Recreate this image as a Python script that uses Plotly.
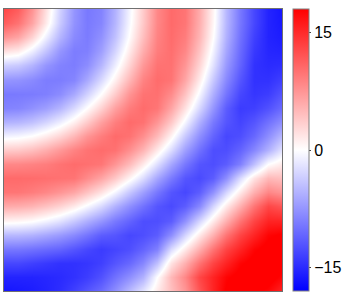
import plotly.graph_objects as go

x_positions = list(range(21))
y_positions = list(range(21))

tick_values = [-15, 0, 15]
tick_labels = ["\u221215", "0", "15"]

z_values = [
    [13,11.5,7.7,2.2,-3.3,-7.5,-9.5,-8.8,-5.5,-0.9,3.7,8.4,10.5,9.8,6,0.8,-5,-9.5,-13,-15.5,-16.5],
    [11.5,9.9,6.4,1.4,-3.8,-7.7,-9.4,-8.6,-5.2,-0.6,3.9,8.5,10.5,9.7,5.8,0.6,-5.1,-9.6,-13,-15.5,-16.3],
    [7.7,6.4,3.1,-1.2,-5.3,-8.3,-9.3,-7.8,-4.4,0.1,4.6,8.8,10.4,9.2,5.3,0.1,-5.5,-10,-13.5,-15.5,-16],
    [2.2,1.4,-1.2,-4.3,-7.5,-9.2,-9,-6.8,-3,1.4,5.8,9.2,10.2,8.5,4.3,-0.9,-6.3,-10.5,-14,-15.3,-15.5],
    [-3.3,-3.8,-5.3,-7.5,-8.8,-9.2,-8.1,-5.2,-1.2,3,7.3,9.9,10,7.5,3.1,-2.1,-7.2,-11,-14.5,-15,-14.8],
    [-7.5,-7.7,-8.3,-9.2,-9.2,-8.6,-6.1,-2.7,1.1,5.1,8.8,10.4,9.8,6.3,1.5,-3.9,-8.4,-12,-14.5,-14.5,-13.5],
    [-9.5,-9.4,-9.3,-9,-8.1,-6.1,-3.2,0.1,3.7,7.5,9.9,10.1,8.2,4.3,-0.5,-5.7,-9.8,-13,-14.2,-13.7,-12],
    [-8.8,-8.6,-7.8,-6.8,-5.2,-2.7,0.1,3.2,6.7,9.2,10.4,9.7,6.4,2.1,-2.7,-7.5,-11.5,-13.8,-13.5,-12.3,-10.5],
    [-5.5,-5.2,-4.4,-3,-1.2,1.1,3.7,6.7,9.1,10.5,10,7.5,3.9,-0.7,-5.5,-9.5,-12,-13.2,-12,-10,-8],
    [-0.9,-0.6,0.1,1.4,3,5.1,7.5,9.2,10.5,10,8,4.9,0.8,-3.9,-7.9,-11,-13,-12.5,-10.7,-8,-5],
    [3.7,3.9,4.6,5.8,7.3,8.8,9.9,10.4,10,8,5.3,1.5,-2.5,-6.8,-10,-12.5,-12.5,-11,-8.5,-5.5,-2],
    [8.4,8.5,8.8,9.2,9.9,10.4,10.1,9.7,7.5,4.9,1.5,-2.3,-6.3,-9.6,-12,-12.5,-11.5,-9,-4.5,0,1.5],
    [10.5,10.5,10.4,10.2,10,9.8,8.2,6.4,3.9,0.8,-2.5,-6.3,-9.4,-12,-12.8,-11.5,-8,-2.6,2,5,4.5],
    [9.8,9.7,9.2,8.5,7.5,6.3,4.3,2.1,-0.7,-3.9,-6.8,-9.6,-12,-13,-11.5,-7.8,-3,1.5,5.6,8.5,7.5],
    [6,5.8,5.3,4.3,3.1,1.5,-0.5,-2.7,-5.5,-7.9,-10,-12,-12.8,-11.5,-8.5,-3,1.5,5.6,9.8,13,12],
    [0.8,0.6,0.1,-0.9,-2.1,-3.9,-5.7,-7.5,-9.5,-11,-12.5,-12.5,-11.5,-7.8,-3,1.5,5.6,9.8,13.2,15.5,15.5],
    [-5,-5.1,-5.5,-6.3,-7.2,-8.4,-9.8,-11.5,-12,-13,-12.5,-11.5,-8,-3,1.5,5.6,9.8,13.2,15.5,17.7,18.3],
    [-9.5,-9.6,-10,-10.5,-11,-12,-13,-13.8,-13.2,-12.5,-11,-9,-2.6,1.5,5.6,9.8,13.2,15.5,17.7,18.8,19.2],
    [-13,-13,-13.5,-14,-14.5,-14.5,-14.2,-13.5,-12,-10.7,-8.5,-4.5,2,5.6,9.8,13.2,15.5,17.7,18.8,19.2,18.8],
    [-15.5,-15.5,-15.5,-15.3,-15,-14.5,-13.7,-12.3,-10,-8,-5.5,0,5,8.5,13,15.5,17.7,18.8,19.2,19,17.5],
    [-16.5,-16.3,-16,-15.5,-14.8,-13.5,-12,-10.5,-8,-5,-2,1.5,4.5,7.5,12,15.5,18.3,19.2,18.8,17.5,15.5],
]

W, H = 346, 298
L, T, S = 3.5, 9, 282

fig = go.Figure(go.Heatmap(
    x=x_positions, y=y_positions, z=z_values,
    zmin=-18, zmax=18, zsmooth="best",
    colorscale=[[0, "rgb(0,0,255)"], [0.5, "rgb(255,255,255)"], [1, "rgb(255,0,0)"]],
    colorbar=dict(
        thickness=16, thicknessmode="pixels",
        len=S, lenmode="pixels",
        x=(296.5 - L) / S, xanchor="left", xpad=0,
        y=1, yanchor="top", ypad=0,
        tickmode="array", tickvals=tick_values, ticktext=tick_labels,
        ticks="outside", ticklen=2, tickwidth=1, tickcolor="#444",
        outlinecolor="#808080", outlinewidth=1,
        tickfont=dict(family="Liberation Sans", size=16, color="black"),
    ),
))
fig.update_layout(
    width=W, height=H, autosize=False,
    margin=dict(l=L, r=W - L - S, t=T, b=H - T - S, pad=0),
    paper_bgcolor="white", plot_bgcolor="white",
    font=dict(family="Liberation Sans"),
    xaxis=dict(range=[0, 20], showticklabels=False, ticks="", showgrid=False, zeroline=False,
               showline=True, mirror=True, linecolor="#707070", linewidth=1),
    yaxis=dict(range=[20, 0], showticklabels=False, ticks="", showgrid=False, zeroline=False,
               showline=True, mirror=True, linecolor="#707070", linewidth=1),
)
fig.write_html("out.html", config={"displayModeBar": False},
               post_script="document.body.style.margin='0';document.body.style.overflow='hidden';")
